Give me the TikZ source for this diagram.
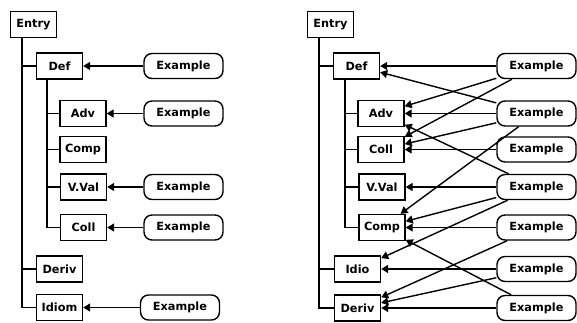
\documentclass[tikz,border=0pt]{standalone}
\usepackage{fontspec}
\setsansfont{DejaVu Sans}
\usetikzlibrary{arrows.meta}
\begin{document}
\begin{tikzpicture}[x=1pt,y=-1pt,
  every node/.style={font=\sffamily\bfseries\fontsize{11.3}{13}\selectfont, inner sep=0pt},
  box/.style={draw, line width=1.4pt, minimum width=46pt, minimum height=26pt, fill=white},
  ex/.style={draw, line width=1.4pt, rounded corners=8pt, minimum width=79pt, minimum height=25pt, fill=white},
  link/.style={line width=1.4pt},
  arr/.style={line width=1.4pt, -{Triangle[length=7pt,width=8pt]}}]
\useasboundingbox (0,0) rectangle (577,322);

% ---------- left panel ----------
\node[box] (entryL) at (33.5,24.5) {Entry};
\node[box] (defL)   at (59.5,66)   {Def};
\node[box] (advL)   at (83,113.5)  {Adv};
\node[box] (compL)  at (83,149.5)  {Comp};
\node[box] (vvalL)  at (83.5,187)  {V.Val};
\node[box] (collL)  at (83.5,227.5){Coll};
\node[box] (derivL) at (59.5,269)  {Deriv};
\node[box] (idiomL) at (59.5,307.5){Idiom};

\node[ex] (exDefL)   at (183.5,66)    {Example};
\node[ex] (exAdvL)   at (183.5,113.5) {Example};
\node[ex] (exVvalL)  at (183.5,187)   {Example};
\node[ex] (exCollL)  at (183.5,227.5) {Example};
\node[ex] (exIdiomL) at (180,307.5)   {Example};

\draw[link] ([xshift=12pt]entryL.south west) coordinate (tL) |- (idiomL.west);
\draw[link] (defL.west) -- (defL.west -| tL);
\draw[link] (derivL.west) -- (derivL.west -| tL);
\draw[link] ([xshift=11pt]defL.south west) coordinate (dL) |- (collL.west);
\draw[link] (advL.west) -- (advL.west -| dL);
\draw[link] (compL.west) -- (compL.west -| dL);
\draw[link] (vvalL.west) -- (vvalL.west -| dL);

\draw[arr] (exDefL) -- (defL);
\draw[arr] (exAdvL) -- (advL);
\draw[arr] (exVvalL) -- (vvalL);
\draw[arr] (exCollL) -- (collL);
\draw[arr] (exIdiomL) -- (idiomL);

% ---------- right panel ----------
\node[box] (entryR) at (330.5,24.5) {Entry};
\node[box] (defR)   at (356.5,66)   {Def};
\node[box] (advR)   at (381,113.5)  {Adv};
\node[box] (collR)  at (381,149.5)  {Coll};
\node[box] (vvalR)  at (382,187)    {V.Val};
\node[box] (compR)  at (382,227.5)  {Comp};
\node[box] (idioR)  at (357.5,269)  {Idio};
\node[box] (derivR) at (357.5,308)  {Deriv};

\node[ex] (e1) at (536.5,66)    {Example};
\node[ex] (e2) at (536.5,113.5) {Example};
\node[ex] (e3) at (536.5,149.5) {Example};
\node[ex] (e4) at (536.5,187)   {Example};
\node[ex] (e5) at (536.5,227.5) {Example};
\node[ex] (e6) at (536.5,269)   {Example};
\node[ex] (e7) at (536.5,308)   {Example};

\draw[link] ([xshift=12pt]entryR.south west) coordinate (tR) |- (derivR.west);
\draw[link] (defR.west) -- (defR.west -| tR);
\draw[link] (idioR.west) -- (idioR.west -| tR);
\draw[link] ([xshift=12pt]defR.south west) coordinate (dR) |- (compR.west);
\draw[link] (advR.west) -- (advR.west -| dR);
\draw[link] (collR.west) -- (collR.west -| dR);
\draw[link] (vvalR.west) -- (vvalR.west -| dR);

\draw[arr] (e1) -- (defR);
\draw[arr] (e1) -- (advR);
\draw[arr] (e1) -- (collR);
\draw[arr] (e2) -- (defR);
\draw[arr] (e2) -- (advR);
\draw[arr] (e2) -- (collR);
\draw[arr] (e2) -- (compR);
\draw[arr] (e3) -- (collR);
\draw[arr] (e4) -- (advR);
\draw[arr] (e4) -- (vvalR);
\draw[arr] (e4) -- (compR);
\draw[arr] (e4) -- (idioR);
\draw[arr] (e5) -- (compR);
\draw[arr] (e5) -- (derivR);
\draw[arr] (e6) -- (idioR);
\draw[arr] (e6) -- (derivR);
\draw[arr] (e7) -- (derivR);
\draw[arr] (e7) -- (compR);
\end{tikzpicture}
\end{document}
